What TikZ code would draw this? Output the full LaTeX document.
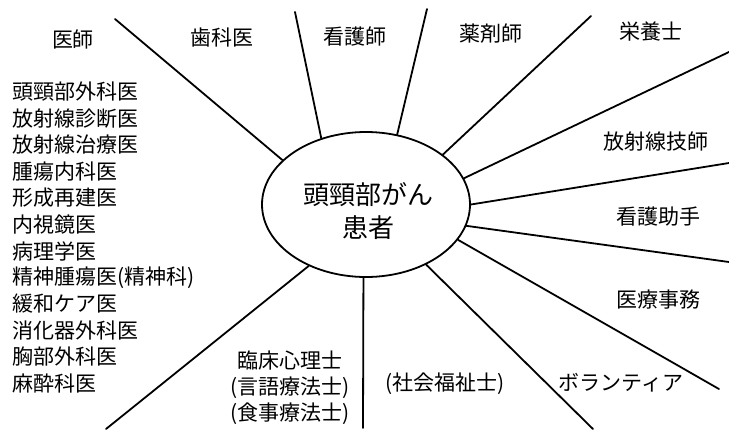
\documentclass[tikz,border=0pt]{standalone}
\usepackage{fontspec}
\newfontfamily\jp{Noto Sans CJK JP}
\usetikzlibrary{shapes.geometric}
\begin{document}
\begin{tikzpicture}[x=1pt,y=-1pt,
  ln/.style={line width=1.8pt, line cap=round},
  lab/.style={font=\jp\fontsize{21}{26}\selectfont, inner sep=0pt},
  big/.style={font=\jp\fontsize{26}{33}\selectfont, inner sep=0pt, align=center},
]
\useasboundingbox (0,0) rectangle (729,432);
% central ellipse
\node[ellipse, draw, line width=1.8pt, minimum width=208pt, minimum height=145pt, inner sep=0pt] (e) at (366,204.5) {};
\node[big] (et) at (368,211) {頭頸部がん\\患者};
% outer ends of the spokes
\coordinate (o1) at (115,19);
\coordinate (o2) at (295,12);
\coordinate (o3) at (427,9);
\coordinate (o4) at (591,16);
\coordinate (o5) at (729,52);
\coordinate (o6) at (729,163);
\coordinate (o7) at (729,262);
\coordinate (o8) at (719,389);
\coordinate (o9) at (593,429);
\coordinate (o10) at (363,428);
\coordinate (o11) at (106,429);
\draw[ln] (e.152.6) -- (o1);
\draw[ln] (e.124.3) -- (o2);
\draw[ln] (e.66.5) -- (o3);
\draw[ln] (e.33.9) -- (o4);
\draw[ln] (e.15.8) -- (o5);
\draw[ln] (e.0.5) -- (o6);
\draw[ln] (e.-12.1) -- (o7);
\draw[ln] (e.-21.3) -- (o8);
\draw[ln] (e.-45.9) -- (o9);
\draw[ln] (e.-92.4) -- (o10);
\draw[ln] (e.-133.2) -- (o11);
% top labels
\node[lab] (n1) at (73,39) {医師};
\node[lab] (n2) at (222,38) {歯科医};
\node[lab] (n3) at (355,37) {看護師};
\node[lab] (n4) at (491,34) {薬剤師};
\node[lab] (n5) at (651,32) {栄養士};
% right labels
\node[lab] (n6) at (656,142) {放射線技師};
\node[lab] (n7) at (658,217) {看護助手};
\node[lab] (n8) at (658,300) {医療事務};
\node[lab] (n9) at (621,383) {ボランティア};
\node[lab] (n10) at (445,384) {(社会福祉士)};
% bottom centre labels
\node[lab] (b1) at (290,361) {臨床心理士};
\node[lab] (b2) at (290,388) {(言語療法士)};
\node[lab] (b3) at (290,414) {(食事療法士)};
% doctor list
\foreach \t [count=\i] in {頭頸部外科医,放射線診断医,放射線治療医,腫瘍内科医,形成再建医,内視鏡医,病理学医,精神腫瘍医(精神科),緩和ケア医,消化器外科医,胸部外科医,麻酔科医}
  \node[lab, anchor=west] (d\i) at (12,{92+26.5*(\i-1)}) {\t};
\end{tikzpicture}
\end{document}
